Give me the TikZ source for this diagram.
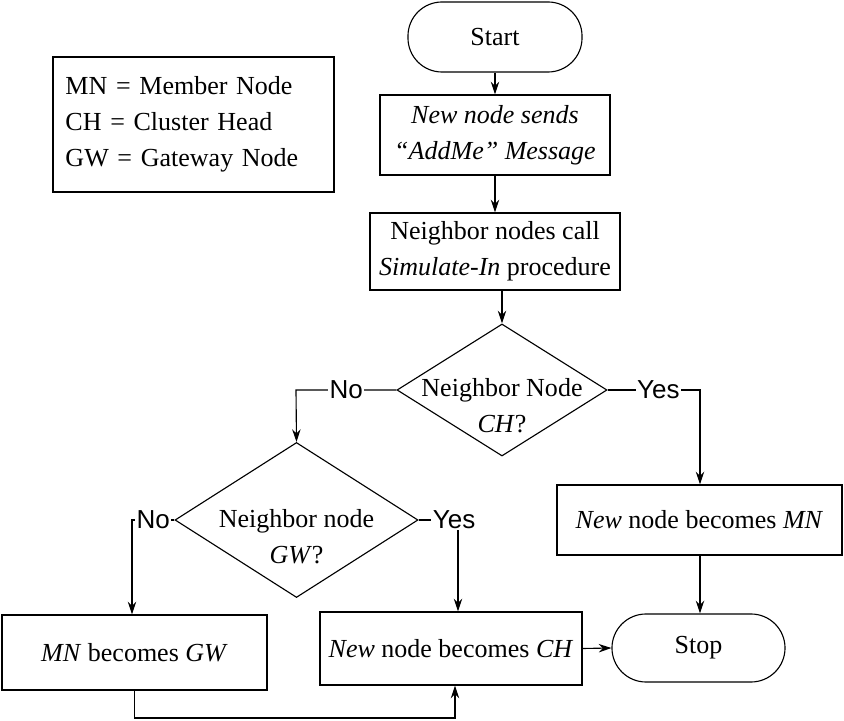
\documentclass[tikz,border=0pt]{standalone}
\usepackage{fontspec}
\setmainfont{Liberation Serif}
\newfontfamily\labelfont{Liberation Sans}
\usetikzlibrary{shapes.geometric,arrows.meta}

\tikzset{
    procbox/.style={draw, thick, rectangle, align=center, inner sep=0pt},
    termbox/.style={draw, thick, rectangle, rounded corners=0.85cm, align=center, inner sep=0pt},
    decision/.style={draw, thick, diamond, inner sep=0pt},
    flow/.style={thick, -{Stealth[length=9pt,width=6pt]}},
    answer/.style={font=\labelfont\fontsize{18.5}{22}\selectfont, fill=white, inner sep=1pt}
}

\begin{document}
\begin{tikzpicture}[x=0.025cm, y=-0.025cm, font=\fontsize{18.5}{25.5}\selectfont]
\useasboundingbox (0,0) rectangle (844,721);

% Legend
\node[draw, thick, minimum width=7.025cm, minimum height=3.375cm, text width=6.4cm, align=left, inner sep=0pt] (legend) at (193.5,124.5)
    {MN = Member Node\\CH = Cluster Head\\GW = Gateway Node};

% Main column
\node[termbox, minimum width=4.35cm, minimum height=1.75cm] (start) at (495,37) {Start};
\node[procbox, minimum width=5.75cm, minimum height=2cm] (send) at (495,135)
    {\textit{New node sends}\\\textit{``AddMe'' Message}};
\node[procbox, minimum width=6.25cm, minimum height=1.925cm] (call) at (495,251.5)
    {Neighbor nodes call\\\textit{Simulate-In} procedure};
\node[decision, minimum width=5.25cm, minimum height=3.3cm] (isch) at (502,390) {};
\node[align=center] at (502,406) {Neighbor Node\\\textit{CH}?};

% Right branch
\node[procbox, minimum width=7.125cm, minimum height=1.75cm] (mn) at (699.5,520) {\textit{New} node becomes \textit{MN}};
\node[termbox, minimum width=4.325cm, minimum height=1.7cm] (stop) at (698.5,648) {Stop};

% Left branch
\node[decision, minimum width=6.075cm, minimum height=3.875cm] (isgw) at (296.5,520) {};
\node[align=center] at (296.5,537) {Neighbor node\\\textit{GW}?};
\node[procbox, minimum width=6.625cm, minimum height=1.875cm] (gw) at (134.5,652.5) {\textit{MN} becomes \textit{GW}};
\node[procbox, minimum width=6.55cm, minimum height=1.825cm] (ch) at (451,648.5) {\textit{New} node becomes \textit{CH}};

% Connectors
\draw[flow] (start) -- (send);
\draw[flow] (send) -- (call);
\draw[flow] (call.south -| isch.north) -- (isch.north);
\draw[flow] (isch.west) -- (296,390) node[answer, pos=0.5] {No} -- (isgw.north);
\draw[flow] (isch.east) -- (700,390) node[answer, pos=0.55] {Yes} -- (mn.north -| 700,0);
\draw[flow] (isgw.west) -- (132,520) node[answer, pos=0.5] {No} -- (gw.north -| 132,0);
\draw[flow] (isgw.east) -- (458,520) node[answer, pos=0.9] {Yes} -- (ch.north -| 458,0);
\draw[flow] (mn.south -| 700,0) -- (stop.north -| 700,0);
\draw[flow] (ch.east) -- (stop.west);
\draw[flow] (gw.south) -- (134.5,718) -- (455,718) -- (ch.south -| 455,0);
\end{tikzpicture}
\end{document}
